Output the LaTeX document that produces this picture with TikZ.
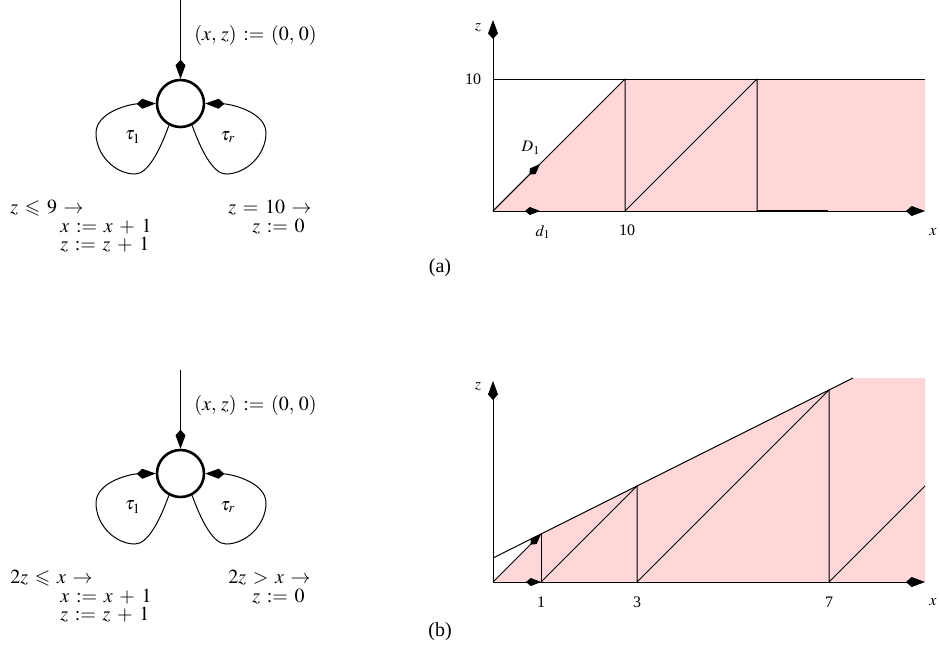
\documentclass[tikz,border=0pt]{standalone}
\usepackage{amssymb}
\usepackage{mathptmx}
\usepackage[no-math]{fontspec}
\setmainfont{Liberation Serif}
\usetikzlibrary{arrows.meta}
\definecolor{regionpink}{RGB}{255,215,217}
\newcommand{\mywidemath}{\thickmuskip=6mu\relax\medmuskip=6mu\relax}
\tikzset{
  kitetip/.style={-{Kite[length=9.5pt,width=5pt,inset=2.8pt]}},
  smallkite/.style={-{Kite[length=7.5pt,width=4pt,inset=2.4pt]}},
  statecirc/.style={circle,draw,line width=1.3pt,minimum size=23.5pt,inner sep=0pt},
  thinline/.style={line width=0.5pt},
  maintext/.style={font={\fontsize{10}{12}\selectfont\mywidemath},inner sep=0pt},
  graphlabel/.style={font={\fontsize{8}{9}\selectfont},inner sep=0pt},
  looplabel/.style={font={\fontsize{9}{10}\selectfont},inner sep=0pt}
}
\begin{document}
\begin{tikzpicture}[x=0.5pt,y=-0.5pt,line join=round]
\useasboundingbox (0,0) rectangle (940,665);

% ================= automaton (a) =================
\node[statecirc] (s1) at (180.5,103.5) {};
\coordinate (in1) at (180.5,0);
\draw[thinline,kitetip] (in1) -- (s1.north);
\node[maintext,anchor=west] (init1) at (194,35) {$(x,\, z) := (0,\, 0)$};
\draw[thinline,kitetip] (s1.242) .. controls (160,150) and (148,174) .. (135,174)
   .. controls (115,174) and (96,155) .. (96,133)
   .. controls (96,112) and (130,104) .. (s1.west);
\draw[thinline,kitetip] (s1.298) .. controls (201,150) and (213,174) .. (226,174)
   .. controls (246,174) and (266,155) .. (266,133)
   .. controls (266,112) and (231,104) .. (s1.east);
\node[looplabel] (t1a) at (133,137) {$\tau_1$};
\node[looplabel] (tra) at (228,137) {$\tau_r$};
\node[maintext,anchor=west] (g1a) at (10,208) {$z \leqslant 9 \to$};
\node[maintext,anchor=west] (u1a) at (60,227) {$x := x + 1$};
\node[maintext,anchor=west] (u2a) at (60,245) {$z := z + 1$};
\node[maintext,anchor=west] (g2a) at (228,208) {$z = 10 \to$};
\node[maintext,anchor=west] (u3a) at (252,227) {$z := 0$};

% ================= graph (a) =================
\coordinate (Oa) at (493,211);
\coordinate (Ztopa) at (493,20);
\coordinate (Xenda) at (925,211);
\coordinate (Z10) at (493,79);
\coordinate (A1) at (625,79);
\coordinate (A1b) at (625,211);
\coordinate (A2) at (757,79);
\coordinate (A2b) at (757,211);
\coordinate (A3) at (925,79);
\fill[regionpink] (Oa) -- (A1) -- (A3) -- (Xenda) -- cycle;
\draw[thinline] (Z10) -- (A3);
\draw[thinline] (Oa) -- (A1) -- (A1b) -- (A2) -- (A2b);
\draw[line width=1pt] (A2b) -- (828,211);
\draw[thinline,kitetip] (Oa) -- (Ztopa);
\draw[thinline,kitetip] (Oa) -- (Xenda);
\coordinate (d1) at (540,211);
\coordinate (D1) at (540,164);
\draw[thinline,smallkite] (Oa) -- (d1);
\draw[thinline,smallkite] (Oa) -- (D1);
\node[graphlabel] (za) at (478,28) {$z$};
\node[graphlabel] (ten1) at (473,79) {10};
\node[graphlabel] (D1l) at (531,148) {$D_1$};
\node[graphlabel] (d1l) at (543,232) {$d_1$};
\node[graphlabel] (ten2) at (627,230) {10};
\node[graphlabel] (xa) at (933,232) {$x$};
\node[maintext] (capa) at (440,268) {(a)};

% ================= automaton (b) =================
\node[statecirc] (s2) at (180.5,473.5) {};
\coordinate (in2) at (180.5,370);
\draw[thinline,kitetip] (in2) -- (s2.north);
\node[maintext,anchor=west] (init2) at (194,405) {$(x,\, z) := (0,\, 0)$};
\draw[thinline,kitetip] (s2.242) .. controls (160,520) and (148,544) .. (135,544)
   .. controls (115,544) and (96,525) .. (96,503)
   .. controls (96,482) and (130,474) .. (s2.west);
\draw[thinline,kitetip] (s2.298) .. controls (201,520) and (213,544) .. (226,544)
   .. controls (246,544) and (266,525) .. (266,503)
   .. controls (266,482) and (231,474) .. (s2.east);
\node[looplabel] (t1b) at (133,507) {$\tau_1$};
\node[looplabel] (trb) at (228,507) {$\tau_r$};
\node[maintext,anchor=west] (g1b) at (10,578) {$2z \leqslant x \to$};
\node[maintext,anchor=west] (u1b) at (60,597) {$x := x + 1$};
\node[maintext,anchor=west] (u2b) at (60,615) {$z := z + 1$};
\node[maintext,anchor=west] (g2b) at (228,578) {$2z > x \to$};
\node[maintext,anchor=west] (u3b) at (252,597) {$z := 0$};

% ================= graph (b) =================
\coordinate (Ob) at (493,582);
\coordinate (Ztopb) at (493,381);
\coordinate (Xendb) at (925,582);
\coordinate (B1) at (541,534);
\coordinate (B1b) at (541,582);
\coordinate (B3) at (637,486);
\coordinate (B3b) at (637,582);
\coordinate (B7) at (829,390);
\coordinate (B7b) at (829,582);
\coordinate (B9) at (925,486);
\coordinate (Lstart) at (493,558);
\coordinate (Lend) at (853,378);
\coordinate (Rtop) at (925,378);
\fill[regionpink] (Ob) -- (B1) -- (Lend) -- (Rtop) -- (Xendb) -- cycle;
\draw[thinline] (Lstart) -- (Lend);
\draw[thinline] (B1b) -- (B1);
\draw[thinline] (B1b) -- (B3) -- (B3b) -- (B7) -- (B7b) -- (B9);
\draw[thinline,kitetip] (Ob) -- (Ztopb);
\draw[thinline,kitetip] (Ob) -- (Xendb);
\draw[thinline,smallkite] (Ob) -- (B1);
\draw[thinline,smallkite] (Ob) -- (B1b);
\node[graphlabel] (zb) at (478,387) {$z$};
\node[graphlabel] (one) at (541,602) {1};
\node[graphlabel] (three) at (637,602) {3};
\node[graphlabel] (seven) at (829,602) {7};
\node[graphlabel] (xb) at (933,602) {$x$};
\node[maintext] (capb) at (440,632) {(b)};
\end{tikzpicture}
\end{document}
